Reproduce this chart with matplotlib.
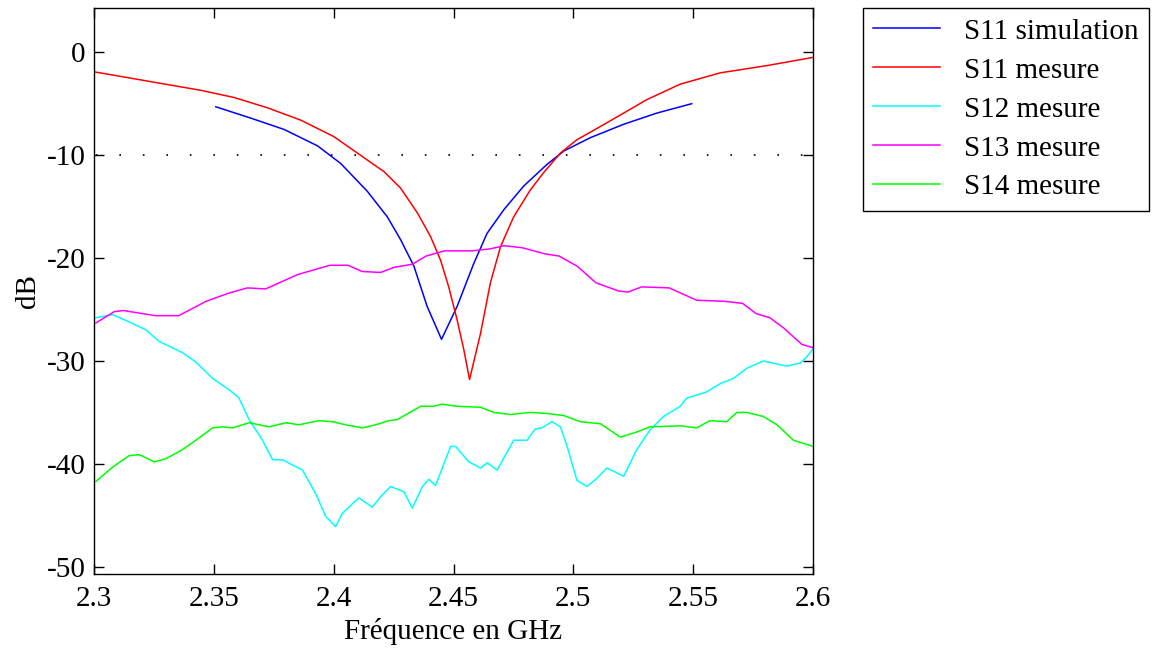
import numpy as np
import matplotlib
matplotlib.use("Agg")
import matplotlib.pyplot as plt

# S11 simulation
s11_sim_f = [2.3508, 2.3654, 2.3793, 2.3933, 2.4029, 2.414, 2.4224, 2.4279, 2.4335, 2.439,
             2.445, 2.4515, 2.4585, 2.464, 2.471, 2.4793, 2.489, 2.496, 2.5071, 2.521,
             2.535, 2.5494]
s11_sim_db = [-5.3, -6.4, -7.5, -9.1, -10.8, -13.5, -16.0, -18.2, -20.8, -24.7,
              -27.9, -24.7, -20.5, -17.6, -15.3, -13.0, -10.9, -9.6, -8.3, -7.0,
              -5.9, -5.0]

# S11 mesure
s11_f = [2.3, 2.3446, 2.3585, 2.3724, 2.3863, 2.4001, 2.4099, 2.421, 2.4279, 2.4349,
         2.4404, 2.4446, 2.448, 2.4515, 2.4543, 2.4567, 2.4613, 2.4654, 2.4696, 2.4751,
         2.482, 2.4876, 2.4946, 2.5015, 2.5099, 2.5196, 2.5307, 2.5446, 2.5613, 2.5807, 2.6]
s11_db = [-1.9, -3.7, -4.4, -5.4, -6.6, -8.2, -9.8, -11.6, -13.2, -15.6,
          -17.9, -20.2, -22.8, -26.0, -28.9, -31.8, -27.3, -22.4, -18.9, -16.0,
          -13.4, -11.7, -9.8, -8.5, -7.4, -6.1, -4.6, -3.1, -2.0, -1.3, -0.5]

# S12 mesure
s12_f = [2.3008, 2.3078, 2.3147, 2.3218, 2.3272, 2.337, 2.3425, 2.3495, 2.3564, 2.3605,
         2.3647, 2.3703, 2.3745, 2.3786, 2.387, 2.3925, 2.3967, 2.4008, 2.4036, 2.4105,
         2.4161, 2.4196, 2.4237, 2.4293, 2.4328, 2.437, 2.4397, 2.4425, 2.4488, 2.4508,
         2.4564, 2.4613, 2.464, 2.4682, 2.4751, 2.4807, 2.4841, 2.4869, 2.4911, 2.4946,
         2.4974, 2.5015, 2.5057, 2.5098, 2.514, 2.521, 2.5265, 2.532, 2.5376, 2.5446,
         2.5474, 2.5557, 2.5613, 2.5668, 2.5724, 2.5793, 2.589, 2.5946, 2.5974, 2.6]
s12_db = [-25.8, -25.5, -26.2, -27.0, -28.1, -29.2, -30.1, -31.7, -32.8, -33.6,
          -35.7, -37.7, -39.6, -39.6, -40.6, -42.9, -45.1, -46.1, -44.8, -43.3,
          -44.2, -43.2, -42.2, -42.7, -44.3, -42.2, -41.5, -42.1, -38.3, -38.3,
          -39.8, -40.4, -39.9, -40.6, -37.7, -37.7, -36.6, -36.5, -35.9, -36.4,
          -38.3, -41.6, -42.2, -41.4, -40.4, -41.2, -38.6, -36.7, -35.4, -34.4,
          -33.6, -33.0, -32.2, -31.7, -30.7, -30.0, -30.5, -30.2, -29.6, -28.8]

# S13 mesure
s13_f = [2.3008, 2.3085, 2.3123, 2.3257, 2.3353, 2.3468, 2.3563, 2.364, 2.3716, 2.385,
         2.3984, 2.406, 2.4118, 2.4195, 2.4252, 2.4328, 2.4386, 2.4462, 2.4577, 2.4654,
         2.4711, 2.4788, 2.4883, 2.494, 2.5017, 2.5094, 2.5189, 2.5228, 2.5285, 2.54,
         2.5515, 2.5629, 2.5706, 2.5763, 2.582, 2.5878, 2.5954, 2.6]
s13_db = [-26.3, -25.2, -25.1, -25.6, -25.6, -24.2, -23.4, -22.9, -23.0, -21.6,
          -20.7, -20.7, -21.3, -21.4, -20.9, -20.6, -19.8, -19.3, -19.3, -19.1,
          -18.8, -19.0, -19.6, -19.8, -20.8, -22.4, -23.2, -23.3, -22.8, -22.9,
          -24.1, -24.2, -24.4, -25.4, -25.8, -26.8, -28.4, -28.7]

# S14 mesure
s14_f = [2.3008, 2.3078, 2.3147, 2.3189, 2.3251, 2.33, 2.337, 2.3425, 2.3495, 2.3536,
         2.3578, 2.3647, 2.373, 2.38, 2.3855, 2.3939, 2.3995, 2.405, 2.412, 2.4175,
         2.423, 2.4265, 2.4363, 2.4418, 2.4453, 2.4515, 2.4613, 2.4668, 2.4738, 2.482,
         2.489, 2.496, 2.5029, 2.5113, 2.5196, 2.5265, 2.532, 2.5446, 2.5515, 2.557,
         2.564, 2.5682, 2.5724, 2.5793, 2.585, 2.5918, 2.6]
s14_db = [-41.7, -40.3, -39.2, -39.1, -39.8, -39.5, -38.6, -37.7, -36.5, -36.4,
          -36.5, -36.0, -36.4, -36.0, -36.2, -35.8, -35.9, -36.2, -36.5, -36.2,
          -35.8, -35.7, -34.4, -34.4, -34.2, -34.4, -34.5, -35.0, -35.2, -35.0,
          -35.1, -35.3, -35.9, -36.1, -37.4, -36.9, -36.4, -36.3, -36.5, -35.8,
          -35.9, -35.0, -35.0, -35.4, -36.2, -37.7, -38.3]

plt.rcParams['font.family'] = ['Liberation Serif', 'DejaVu Serif']
plt.rcParams['font.size'] = 21
plt.rcParams['axes.unicode_minus'] = False

fig = plt.figure(figsize=(11.56, 6.48), dpi=100)
ax = fig.add_axes([94 / 1156, 1 - 574 / 648, (813 - 94) / 1156, (574 - 8) / 648])

ax.plot(s11_sim_f, s11_sim_db, color='#0000ff', lw=1.1, label='S11 simulation')
ax.plot(s11_f, s11_db, color='#ff0000', lw=1.1, label='S11 mesure')
ax.plot(s12_f, s12_db, color='#00ffff', lw=1.1, label='S12 mesure')
ax.plot(s13_f, s13_db, color='#ff00ff', lw=1.1, label='S13 mesure')
ax.plot(s14_f, s14_db, color='#00ff00', lw=1.1, label='S14 mesure')

# -10 dB reference line
ax.axhline(-10, color='black', lw=1.2, ls=(13, (1, 13.1)))

ax.set_xlim(2.3, 2.6)
ax.set_ylim(-50.7, 4.3)
ax.set_xticks([2.3, 2.35, 2.4, 2.45, 2.5, 2.55, 2.6])
ax.set_xticklabels(['2.3', '2.35', '2.4', '2.45', '2.5', '2.55', '2.6'])
ax.set_yticks([0, -10, -20, -30, -40, -50])
ax.tick_params(direction='in', length=7, width=1, top=True, right=True)
ax.tick_params(axis='x', pad=9)
ax.tick_params(axis='y', pad=6)
for sp in ax.spines.values():
    sp.set_linewidth(1)

ax.set_xlabel('Fréquence en GHz', labelpad=4)
ax.set_ylabel('dB', labelpad=4)

leg = ax.legend(loc='upper left', bbox_to_anchor=(863 / 1156, 1 - 8 / 648),
                bbox_transform=fig.transFigure, borderaxespad=0, fancybox=False,
                edgecolor='black', framealpha=1, handlelength=2.28, handletextpad=0.83,
                labelspacing=0.43, borderpad=0.35)
leg.get_frame().set_linewidth(1)

fig.savefig('out.png', dpi=100)
